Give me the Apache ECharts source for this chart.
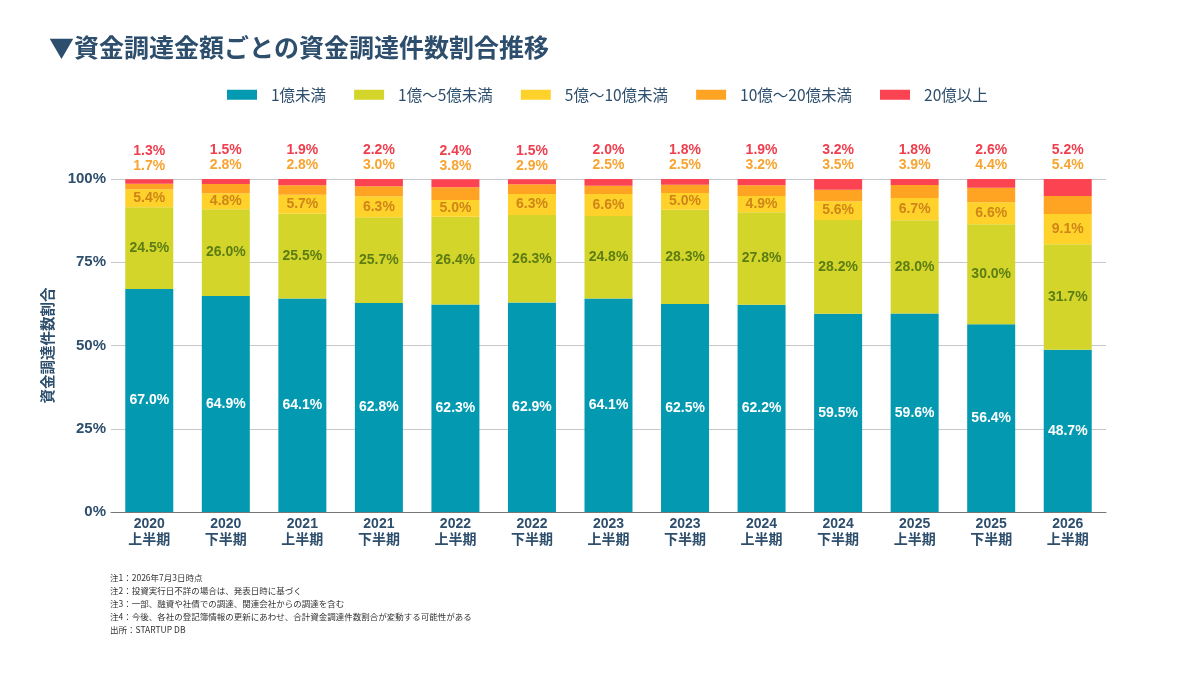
<!DOCTYPE html>
<html>
<head>
    <meta charset="utf-8">
    <script src="https://cdn.jsdelivr.net/npm/echarts@6/dist/echarts.min.js"></script>
    <style>
        html, body { margin: 0; padding: 0; background: #fff; }
        #main { width: 1200px; height: 674px; }
    </style>
</head>
<body>
<div id="main"></div>
<script type="text/javascript">
    // データ
    const periods = ['2020\n上半期', '2020\n下半期', '2021\n上半期', '2021\n下半期', '2022\n上半期', '2022\n下半期',
        '2023\n上半期', '2023\n下半期', '2024\n上半期', '2024\n下半期', '2025\n上半期', '2025\n下半期', '2026\n上半期'];
    const under1 = [67.0, 64.9, 64.1, 62.8, 62.3, 62.9, 64.1, 62.5, 62.2, 59.5, 59.6, 56.4, 48.7];
    const from1to5 = [24.5, 26.0, 25.5, 25.7, 26.4, 26.3, 24.8, 28.3, 27.8, 28.2, 28.0, 30.0, 31.7];
    const from5to10 = [5.4, 4.8, 5.7, 6.3, 5.0, 6.3, 6.6, 5.0, 4.9, 5.6, 6.7, 6.6, 9.1];
    const from10to20 = [1.7, 2.8, 2.8, 3.0, 3.8, 2.9, 2.5, 2.5, 3.2, 3.5, 3.9, 4.4, 5.4];
    const over20 = [1.3, 1.5, 1.9, 2.2, 2.4, 1.5, 2.0, 1.8, 1.9, 3.2, 1.8, 2.6, 5.2];
    const yTicks = [0, 25, 50, 75, 100];

    const notes = [
        '注1：2026年7月3日時点',
        '注2：投資実行日不詳の場合は、発表日時に基づく',
        '注3：一部、融資や社債での調達、関連会社からの調達を含む',
        '注4：今後、各社の登記簿情報の更新にあわせ、合計資金調達件数割合が変動する可能性がある',
        '出所：STARTUP DB'
    ];

    const FONT = "'Liberation Sans', 'Noto Sans CJK JP', sans-serif";
    const NAVY = '#2d4e6c';
    const colors = ['#0399b1', '#d3d52a', '#ffd22b', '#ffa322', '#fb4351'];

    const myChart = echarts.init(document.getElementById('main'));

    function inner(color) {
        return {
            show: true,
            position: 'inside',
            color: color,
            fontFamily: FONT,
            fontSize: 14,
            fontWeight: 'bold',
            formatter: p => p.value.toFixed(1) + '%'
        };
    }

    const option = {
        animation: false,
        textStyle: { fontFamily: FONT },
        title: {
            text: '▼資金調達金額ごとの資金調達件数割合推移',
            left: 44,
            top: 30,
            textStyle: { fontFamily: "'Noto Sans CJK JP', sans-serif", fontSize: 25, fontWeight: 'bold', color: NAVY }
        },
        legend: {
            top: 87,
            left: 227,
            padding: 0,
            itemWidth: 30,
            itemHeight: 10,
            itemGap: 28,
            icon: 'rect',
            textStyle: { fontFamily: "'Noto Sans CJK JP', sans-serif", fontSize: 15.5, color: NAVY, padding: [0, 0, 0, 9] },
            data: ['1億未満', '1億〜5億未満', '5億〜10億未満', '10億〜20億未満', '20億以上']
        },
        grid: { left: 111, right: 94, top: 179, bottom: 162 },
        xAxis: {
            type: 'category',
            data: periods,
            axisLine: { lineStyle: { color: '#777', width: 1 } },
            axisTick: { show: false },
            axisLabel: {
                color: NAVY, fontFamily: FONT, fontSize: 14, fontWeight: 'bold',
                lineHeight: 16, margin: 4
            }
        },
        yAxis: {
            type: 'value',
            min: yTicks[0],
            max: yTicks[yTicks.length - 1],
            interval: 25,
            name: '資金調達件数割合',
            nameLocation: 'middle',
            nameRotate: 90,
            nameGap: 56,
            nameTextStyle: { color: NAVY, fontFamily: "'Noto Sans CJK JP', sans-serif", fontSize: 14.5, fontWeight: 'bold' },
            axisLine: { show: false },
            axisTick: { show: false },
            splitLine: { lineStyle: { color: '#c8c8cc', width: 1 } },
            axisLabel: {
                color: NAVY, fontFamily: FONT, fontSize: 15, fontWeight: 'bold', margin: 5,
                formatter: '{value}%'
            }
        },
        series: [
            { name: '1億未満', type: 'bar', stack: 'total', barWidth: 48, data: under1,
              itemStyle: { color: colors[0] }, label: inner('#ffffff') },
            { name: '1億〜5億未満', type: 'bar', stack: 'total', data: from1to5,
              itemStyle: { color: colors[1] }, label: inner('#5c7d14') },
            { name: '5億〜10億未満', type: 'bar', stack: 'total', data: from5to10,
              itemStyle: { color: colors[2] }, label: inner('#cf8518') },
            { name: '10億〜20億未満', type: 'bar', stack: 'total', data: from10to20,
              itemStyle: { color: colors[3] } },
            { name: '20億以上', type: 'bar', stack: 'total', data: over20,
              itemStyle: { color: colors[4] },
              label: {
                  show: true,
                  position: 'top',
                  distance: 6,
                  formatter: p => '{r|' + over20[p.dataIndex].toFixed(1) + '%}\n{o|' + from10to20[p.dataIndex].toFixed(1) + '%}',
                  rich: {
                      r: { color: '#ef3e4e', fontFamily: FONT, fontSize: 14, fontWeight: 'bold', lineHeight: 15 },
                      o: { color: '#f7a430', fontFamily: FONT, fontSize: 14, fontWeight: 'bold', lineHeight: 15 }
                  }
              } }
        ],
        graphic: notes.map((t, i) => ({
            type: 'text',
            left: 110,
            top: 574 + i * 13,
            style: { text: t, fill: '#333', font: "8.5px 'Noto Sans CJK JP', sans-serif" }
        }))
    };

    myChart.setOption(option);
</script>
</body>
</html>
